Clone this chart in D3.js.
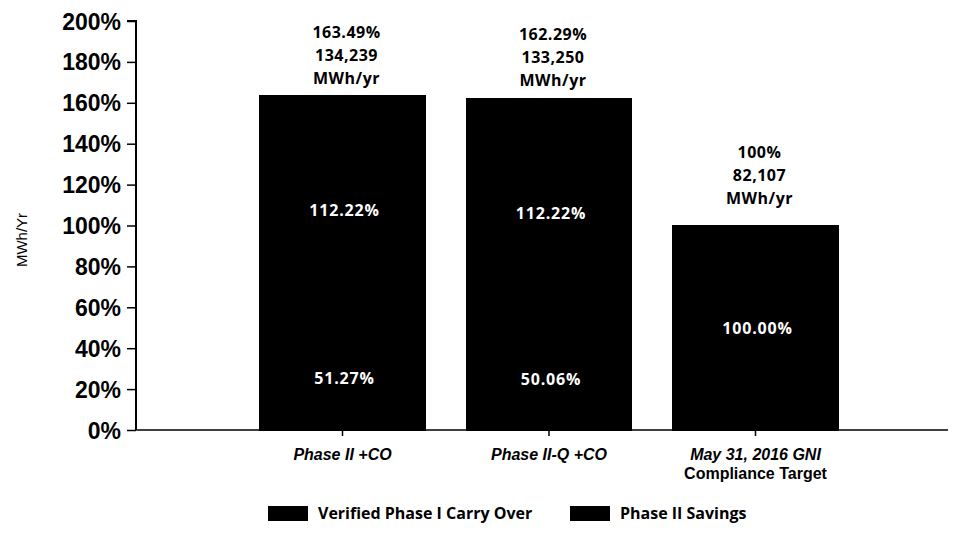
<!DOCTYPE html>
<html>
<head>
<meta charset="utf-8">
<script src="https://cdn.jsdelivr.net/npm/d3@7/dist/d3.min.js"></script>
<style>
  body { margin: 0; background: #fff; }
  svg { display: block; }
</style>
</head>
<body>
<script>
// chart data
var categories = ["Phase II +CO", "Phase II-Q +CO", "May 31, 2016 GNI\nCompliance Target"];
var carryOver = [51.27, 50.06, 0];
var phase2Savings = [112.22, 112.22, 100.00];
var totalPct = ["163.49%", "162.29%", "100%"];
var totalMWh = ["134,239", "133,250", "82,107"];
var yTicks = [0, 20, 40, 60, 80, 100, 120, 140, 160, 180, 200];
var seriesNames = ["Verified Phase I Carry Over", "Phase II Savings"];

var width = 956, height = 550;

var svg = d3.select("body").append("svg")
    .attr("width", width)
    .attr("height", height);

var x = d3.scaleBand()
    .domain(categories)
    .range([136, 962])
    .paddingInner(0.2)
    .paddingOuter(0.6);

var y = d3.scaleLinear()
    .domain([0, 200])
    .range([430, 21]);

// stacked segments
var rows = categories.map(function (c, i) {
    return {cat: c, carry: carryOver[i], savings: phase2Savings[i]};
});
var stack = d3.stack().keys(["carry", "savings"])(rows);

var labelFont = "'Open Sans', sans-serif";

stack.forEach(function (layer) {
    svg.append("g").selectAll("rect")
        .data(layer)
        .enter()
        .append("rect")
        .attr("x", function (d) { return x(d.data.cat); })
        .attr("width", x.bandwidth())
        .attr("y", function (d) { return y(d[1]); })
        .attr("height", function (d) { return y(d[0]) - y(d[1]); })
        .attr("fill", "#000")
        .attr("stroke", "#000")
        .attr("stroke-width", 1)
        .attr("shape-rendering", "crispEdges");

    // white labels inside the segments
    svg.append("g").selectAll("text")
        .data(layer.filter(function (d) { return d[1] - d[0] > 0; }))
        .enter()
        .append("text")
        .attr("x", function (d) { return x(d.data.cat) + x.bandwidth() / 2 + 2; })
        .attr("y", function (d) { return y((d[0] + d[1]) / 2) + 6; })
        .attr("text-anchor", "middle")
        .attr("fill", "#fff")
        .style("font-family", labelFont)
        .style("font-weight", "bold")
        .style("font-size", "16px")
        .style("letter-spacing", "0.8px")
        .text(function (d) { return (d[1] - d[0]).toFixed(2) + "%"; });
});

// totals above the bars
rows.forEach(function (r, i) {
    var top = y(r.carry + r.savings);
    var cx = x(r.cat) + x.bandwidth() / 2 + 4;
    var gap = r.carry > 0 ? 12 : 22;
    var lines = [totalPct[i], totalMWh[i], "MWh/yr"];
    var t = svg.append("text")
        .attr("text-anchor", "middle")
        .style("font-family", labelFont)
        .style("font-weight", "bold")
        .style("font-size", "16px")
        .style("letter-spacing", "0.5px");
    lines.forEach(function (l, k) {
        t.append("tspan")
            .attr("x", cx)
            .attr("y", top - gap - (lines.length - 1 - k) * 23)
            .text(l);
    });
});

// y axis
var yAxis = svg.append("g")
    .attr("transform", "translate(136,0)")
    .call(d3.axisLeft(y).tickValues(yTicks).tickSize(9).tickPadding(6)
        .tickFormat(function (d) { return d + "%"; }));
yAxis.select(".domain").attr("d", "M-9," + y(200) + "H0V" + y(0)).attr("stroke-width", 2);
yAxis.selectAll(".tick line").attr("stroke-width", 1.5);
yAxis.selectAll("text")
    .style("font-family", "'Liberation Sans', Arial, sans-serif")
    .style("font-weight", "bold")
    .style("font-size", "23px")
    .attr("dy", "0.35em");

// x axis
var xAxis = svg.append("g")
    .attr("transform", "translate(0,430)")
    .call(d3.axisBottom(x).tickSize(6).tickSizeOuter(0).tickFormat(""));
xAxis.select(".domain").attr("d", "M136,0H948").attr("stroke-width", 1.5);
xAxis.selectAll(".tick line").attr("stroke-width", 1.5);

xAxis.selectAll(".tick").each(function (d) {
    var g = d3.select(this);
    var t = g.append("text")
        .attr("text-anchor", "middle")
        .attr("fill", "#000")
        .style("font-family", "'Liberation Sans', Arial, sans-serif")
        .style("font-weight", "bold")
        .style("font-size", "16px");
    d.split("\n").forEach(function (l, k) {
        t.append("tspan")
            .attr("x", 0)
            .attr("y", 30 + k * 19)
            .style("font-style", k > 0 ? "normal" : "italic")
            .text(l);
    });
});

// y title
svg.append("text")
    .attr("transform", "translate(27,240) rotate(-90)")
    .attr("text-anchor", "middle")
    .style("font-family", "'Liberation Sans', Arial, sans-serif")
    .style("font-size", "15px")
    .text("MWh/Yr");

// legend
var legendX = [268, 570];
var legend = svg.append("g").selectAll("g")
    .data(seriesNames)
    .enter()
    .append("g")
    .attr("transform", function (d, i) { return "translate(" + legendX[i] + ",506)"; });
legend.append("rect")
    .attr("width", 40)
    .attr("height", 15)
    .attr("fill", "#000");
legend.append("text")
    .attr("x", 50)
    .attr("y", 13)
    .style("font-family", labelFont)
    .style("font-weight", "bold")
    .style("font-size", "16px")
    .text(function (d) { return d; });
</script>
</body>
</html>
